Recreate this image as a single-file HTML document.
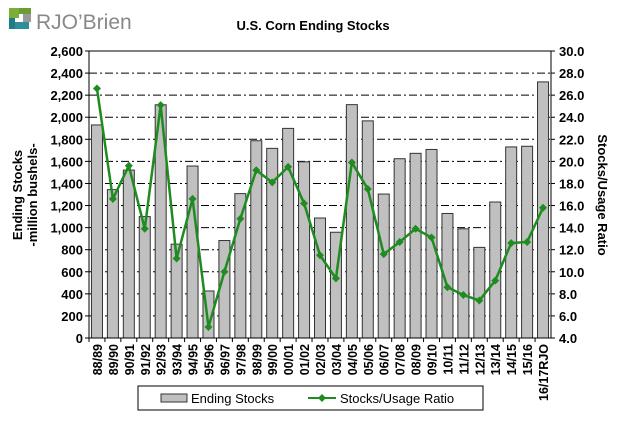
<!DOCTYPE html>
<html><head><meta charset="utf-8"><style>
body{margin:0;background:#fff;width:620px;height:423px;overflow:hidden;font-family:"Liberation Sans",Arial,sans-serif}
</style></head><body>
<svg id="c" width="620" height="423" xmlns="http://www.w3.org/2000/svg" font-family="Liberation Sans, Arial, sans-serif">
<g>
<rect x="9" y="8" width="10" height="10" fill="#7aae3a"/><rect x="19" y="8" width="12" height="6" fill="#6a9e32"/>
<rect x="9" y="18" width="6" height="11" fill="#1f7d8a"/><rect x="15" y="22" width="14" height="7" fill="#2f8f99"/>
<rect x="19" y="14" width="12" height="8" fill="#fff"/><rect x="23" y="14" width="8" height="8" fill="#999"/>
<text x="36" y="29" font-size="21" fill="#888">RJO’Brien</text>
</g>
<text x="313" y="30" font-size="13" font-weight="bold" text-anchor="middle">U.S. Corn Ending Stocks</text>
<g id="grid"></g><g id="bars"></g><g id="axes"></g><g id="line"></g>
<text transform="translate(22,195) rotate(-90)" font-size="13" font-weight="bold" text-anchor="middle">Ending Stocks</text>
<text transform="translate(37,195) rotate(-90)" font-size="13" font-weight="bold" text-anchor="middle">-million bushels-</text>
<text transform="translate(598,195) rotate(90)" font-size="13" font-weight="bold" text-anchor="middle">Stocks/Usage Ratio</text>
<g>
<rect x="138" y="386" width="345" height="24" fill="#fff" stroke="#000"/>
<g><rect x="161" y="394" width="26" height="8" fill="#c0c0c0" stroke="#333"/><text x="191" y="403" font-size="13">Ending Stocks</text></g>
<g><line x1="308" y1="398" x2="336" y2="398" stroke="#1e8c1e" stroke-width="2"/><path d="M322 394 L326 398 L322 402 L318 398Z" fill="#1e8c1e"/><text x="340" y="403" font-size="13">Stocks/Usage Ratio</text></g>
</g>
</svg>
<script>
const categories=["88/89","89/90","90/91","91/92","92/93","93/94","94/95","95/96","96/97","97/98","98/99","99/00","00/01","01/02","02/03","03/04","04/05","05/06","06/07","07/08","08/09","09/10","10/11","11/12","12/13","13/14","14/15","15/16","16/17RJO"];
const endingStocks=[1930,1344,1521,1100,2113,850,1558,426,883,1308,1787,1718,1899,1596,1087,958,2114,1967,1304,1624,1673,1708,1128,989,821,1232,1731,1737,2320];
const stocksUsage=[26.6,16.6,19.6,13.9,25.1,11.2,16.6,5.0,10.0,14.8,19.2,18.1,19.5,16.2,11.5,9.4,19.9,17.5,11.6,12.7,13.9,13.1,8.6,7.9,7.4,9.2,12.6,12.7,15.8];
const leftTicks=[0,200,400,600,800,1000,1200,1400,1600,1800,2000,2200,2400,2600];
const rightTicks=[4,6,8,10,12,14,16,18,20,22,24,26,28,30];
const NS="http://www.w3.org/2000/svg";
const L=89,R=551,T=51,B=338;
const slot=(R-L)/categories.length;
const x=i=>L+slot*(i+0.5);
const yL=v=>B-(v/2600)*(B-T);
const yR=v=>B-((v-4)/26)*(B-T);
function mk(tag,attrs,parent){const e=document.createElementNS(NS,tag);for(const k in attrs)e.setAttribute(k,attrs[k]);document.getElementById(parent).appendChild(e);return e;}
leftTicks.forEach((t,i)=>{
  if(i>0&&i<leftTicks.length-1){const g=mk('line',{x1:L,x2:R,y1:yL(t),y2:yL(t),stroke:'#000','stroke-dasharray':'8,3,2,3','stroke-width':1},'grid');
  
  }
  const tx=mk('text',{x:L-6,y:yL(t)+5,'font-size':13,'font-weight':'bold','text-anchor':'end'},'axes');tx.textContent=t.toLocaleString('en-US');
  
  
  mk('line',{x1:L-4,x2:L,y1:yL(t),y2:yL(t),stroke:'#000'},'axes');
});
rightTicks.forEach(t=>{
  const tx=mk('text',{x:R+8,y:yR(t)+5,'font-size':13,'font-weight':'bold'},'axes');tx.textContent=t.toFixed(1);
  
  
  mk('line',{x1:R,x2:R+4,y1:yR(t),y2:yR(t),stroke:'#000'},'axes');
});
mk('rect',{x:L,y:T,width:R-L,height:B-T,fill:'none',stroke:'#000'},'axes');
endingStocks.forEach((v,i)=>{
  const b=mk('rect',{x:x(i)-5.5,y:yL(v),width:11,height:B-yL(v),fill:'#c0c0c0',stroke:'#333','stroke-width':1},'bars');
  
  
});
categories.forEach((c,i)=>{
  mk('line',{x1:L+slot*i,x2:L+slot*i,y1:B,y2:B+4,stroke:'#000'},'axes');
  const tx=mk('text',{transform:`translate(${x(i)+5},${B+6}) rotate(-90)`,'font-size':12.5,'font-weight':'bold','text-anchor':'end'},'axes');tx.textContent=c;
  
  
});
const pl=mk('polyline',{points:stocksUsage.map((v,i)=>x(i)+','+yR(v)).join(' '),fill:'none',stroke:'#1e8c1e','stroke-width':2.5},'line');


stocksUsage.forEach((v,i)=>{
  const cx=x(i),cy=yR(v);
  const m=mk('path',{d:`M${cx} ${cy-4} L${cx+4} ${cy} L${cx} ${cy+4} L${cx-4} ${cy}Z`,fill:'#1e8c1e'},'line');
  
  
});
</script>
</body></html>
